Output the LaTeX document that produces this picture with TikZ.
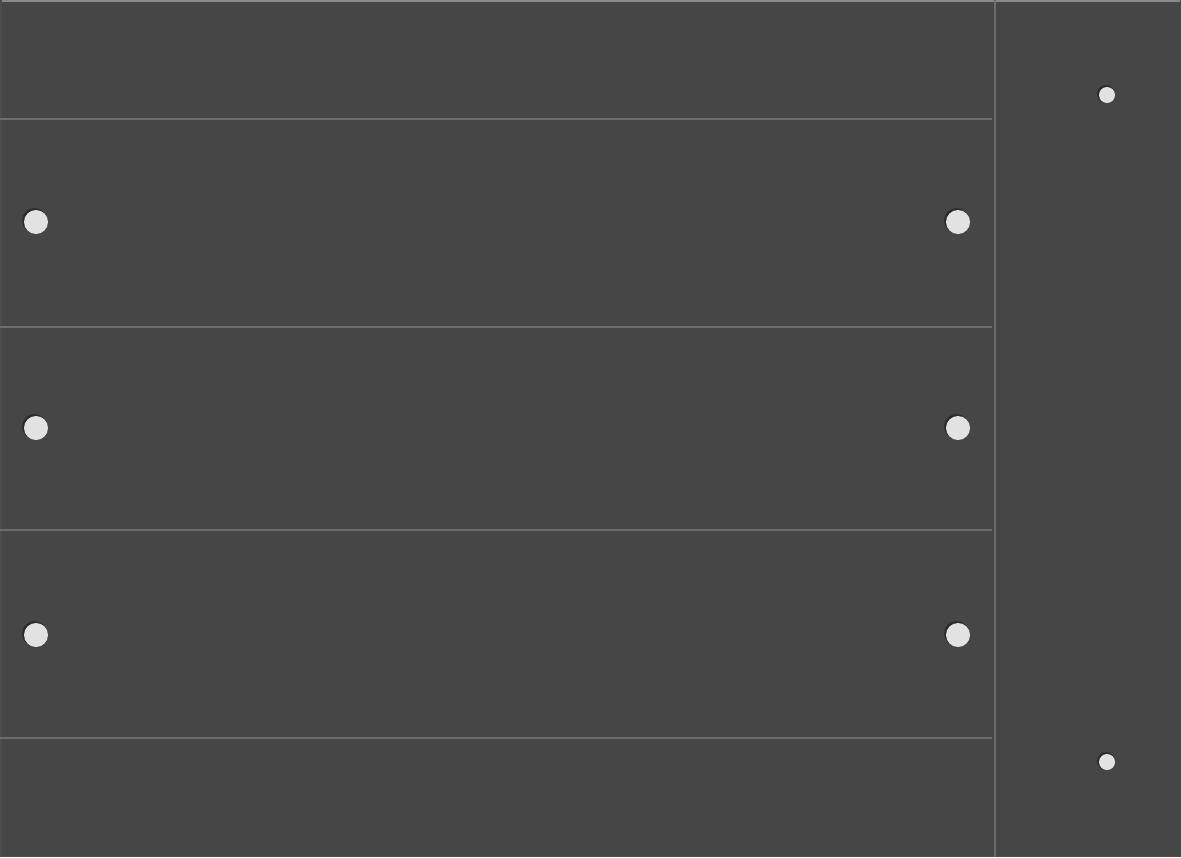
\documentclass[tikz,border=0pt]{standalone}
\definecolor{panel}{HTML}{464646}
\definecolor{seam}{HTML}{6C6C6C}
\definecolor{hole}{HTML}{E2E2E2}
\definecolor{shade}{HTML}{262626}
\tikzset{
  seamline/.style={draw=seam, line width=2pt},
  bighole/.style={fill=hole},
  holeshadow/.style={fill=shade, opacity=0.8}
}
\begin{document}
\begin{tikzpicture}[x=1pt,y=-1pt]
\useasboundingbox (0,0) rectangle (1181,857);
\fill[panel] (0,0) rectangle (1181,857);
\draw[draw=seam!80, line width=2pt] (0,1) -- (1181,1);
\draw[draw=black!70, line width=1.5pt] (0.75,0) -- (0.75,857) (1180.25,0) -- (1180.25,857) (0,856.25) -- (1181,856.25);
% seams
\foreach \y in {119,327,530,738} \draw[seamline] (0,\y) -- (992,\y);
\draw[seamline] (995,0) -- (995,857);
% large holes
\foreach \x in {36,958} \foreach \y in {222,428,635} {
  \fill[holeshadow] (\x-1.5,\y-1.5) circle (12.5);
  \fill[bighole] (\x,\y) circle (12);
}
% small holes
\foreach \y in {95,762} {
  \fill[holeshadow] (1106,\y-1) circle (9);
  \fill[bighole] (1107,\y) circle (8);
}
\end{tikzpicture}
\end{document}
